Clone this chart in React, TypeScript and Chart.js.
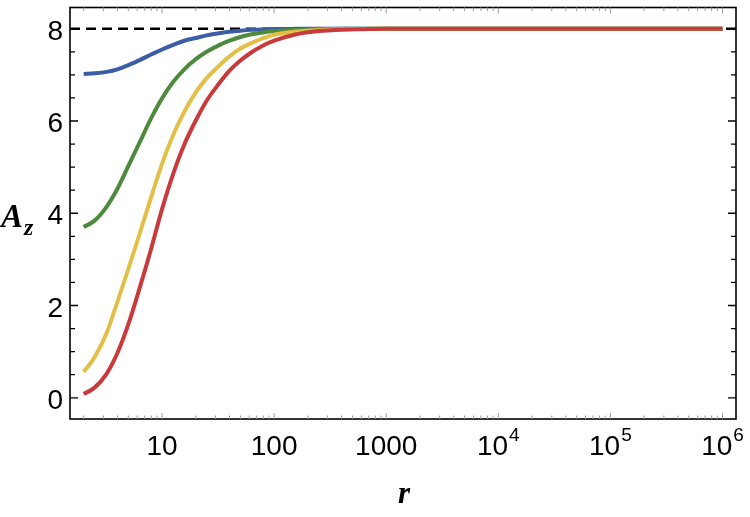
import React, { useEffect, useRef } from "react";
import { Chart, registerables } from "chart.js";

Chart.register(...registerables);

// ---- data ----
const rValues = [2, 2.5, 3.2, 4, 5, 6.3, 8, 10, 12.6, 15.8, 20, 25, 32, 40, 50, 63, 79, 100, 158, 251, 398, 631, 1000, 1e4, 1e5, 1e6];
const blueValues = [7.02, 7.035, 7.065, 7.12, 7.21, 7.32, 7.44, 7.55, 7.65, 7.74, 7.8, 7.855, 7.9, 7.935, 7.958, 7.975, 7.985, 7.992, 7.997, 8, 8, 8, 8, 8, 8, 8];
const greenValues = [3.7, 3.84, 4.14, 4.53, 5.02, 5.53, 6.06, 6.49, 6.85, 7.12, 7.34, 7.5, 7.64, 7.74, 7.82, 7.88, 7.92, 7.95, 7.98, 7.993, 8, 8, 8, 8, 8, 8];
const yellowValues = [0.56, 0.88, 1.4, 2.08, 2.79, 3.55, 4.35, 5.07, 5.7, 6.2, 6.62, 6.93, 7.19, 7.4, 7.57, 7.69, 7.79, 7.87, 7.94, 7.975, 7.99, 7.996, 8, 8, 8, 8];
const redValues = [0.08, 0.22, 0.52, 0.97, 1.59, 2.37, 3.23, 4.09, 4.86, 5.49, 6.01, 6.44, 6.8, 7.09, 7.31, 7.49, 7.63, 7.74, 7.88, 7.95, 7.98, 7.99, 7.997, 8, 8, 8];
const asymptote = 8;

const X_MIN = 1.51;
const X_MAX = 1.32e6;
const Y_MIN = -0.46;
const Y_MAX = 8.46;

const yTickLabels = [0, 2, 4, 6, 8];
const yMinorTicks = [0.5, 1, 1.5, 2.5, 3, 3.5, 4.5, 5, 5.5, 6.5, 7, 7.5];
const xDecades = [1, 2, 3, 4, 5, 6];
const xPlainLabels: Record<number, string> = { 1: "10", 2: "100", 3: "1000" };

const toPts = (ys: number[]) => rValues.map((r, i) => ({ x: r, y: ys[i] }));

const framePlugin = {
  id: "frame",
  afterDraw(chart: any) {
    const ctx = chart.ctx as CanvasRenderingContext2D;
    const { left, right, top, bottom } = chart.chartArea;
    const xs = chart.scales.x;
    const ys = chart.scales.y;
    ctx.save();
    // frame
    ctx.strokeStyle = "#000";
    ctx.lineWidth = 1.6;
    ctx.strokeRect(left, top, right - left, bottom - top);

    // y ticks
    ctx.lineWidth = 1.3;
    const drawY = (v: number, len: number) => {
      const y = ys.getPixelForValue(v);
      ctx.beginPath();
      ctx.moveTo(left, y);
      ctx.lineTo(left + len, y);
      ctx.moveTo(right, y);
      ctx.lineTo(right - len, y);
      ctx.stroke();
    };
    yTickLabels.forEach((v) => drawY(v, 8));
    yMinorTicks.forEach((v) => drawY(v, 5));

    // x ticks
    ctx.strokeStyle = "#9a9a9a";
    ctx.lineWidth = 1;
    const drawX = (v: number, len: number) => {
      if (v < X_MIN || v > X_MAX) return;
      const x = xs.getPixelForValue(v);
      ctx.beginPath();
      ctx.moveTo(x, bottom);
      ctx.lineTo(x, bottom - len);
      ctx.moveTo(x, top);
      ctx.lineTo(x, top + len);
      ctx.stroke();
    };
    for (let d = 0; d <= 6; d++) {
      drawX(Math.pow(10, d), 6);
      for (let m = 2; m <= 9; m++) drawX(m * Math.pow(10, d), 3.5);
    }

    // y labels
    ctx.fillStyle = "#000";
    ctx.font = '28px "Liberation Sans", Arial, sans-serif';
    ctx.textAlign = "right";
    ctx.textBaseline = "alphabetic";
    yTickLabels.forEach((v) => {
      const y = ys.getPixelForValue(v);
      ctx.fillText(String(v), left - 7, y + 11);
    });

    // x labels
    const base = bottom + 36;
    xDecades.forEach((d) => {
      const x = xs.getPixelForValue(Math.pow(10, d));
      if (xPlainLabels[d]) {
        ctx.textAlign = "center";
        ctx.font = '28px "Liberation Sans", Arial, sans-serif';
        ctx.fillText(xPlainLabels[d], x, base);
      } else {
        ctx.textAlign = "left";
        ctx.font = '28px "Liberation Sans", Arial, sans-serif';
        const w1 = ctx.measureText("10").width;
        ctx.font = '19px "Liberation Sans", Arial, sans-serif';
        const w2 = ctx.measureText(String(d)).width;
        const gap = 1;
        const x0 = x - (w1 + gap + w2) / 2;
        ctx.font = '28px "Liberation Sans", Arial, sans-serif';
        ctx.fillText("10", x0, base);
        ctx.font = '19px "Liberation Sans", Arial, sans-serif';
        ctx.fillText(String(d), x0 + w1 + gap, base - 14);
      }
    });

    // axis titles
    ctx.textAlign = "left";
    ctx.font = 'bold italic 33px "Liberation Serif", "Times New Roman", serif';
    ctx.fillText("A", 1, 227);
    const wA = ctx.measureText("A").width;
    ctx.font = 'bold italic 24px "Liberation Serif", "Times New Roman", serif';
    ctx.fillText("z", 1 + wA + 1, 235);

    ctx.textAlign = "center";
    ctx.font = 'bold italic 31px "Liberation Serif", "Times New Roman", serif';
    ctx.fillText("r", 404, 503);
    ctx.restore();
  },
};

export default function App() {
  const ref = useRef<HTMLCanvasElement | null>(null);
  useEffect(() => {
    if (!ref.current) return;
    const mk = (label: string, ys: number[], color: string, order: number) => ({
      label,
      data: toPts(ys),
      borderColor: color,
      borderWidth: 4,
      pointRadius: 0,
      fill: false,
      cubicInterpolationMode: "monotone" as const,
      order,
    });
    const chart = new Chart(ref.current, {
      type: "line",
      data: {
        datasets: [
          mk("red", redValues, "#c83a3b", 0),
          mk("yellow", yellowValues, "#e2c048", 1),
          mk("green", greenValues, "#4e8a3d", 2),
          mk("blue", blueValues, "#3c5ca6", 3),
          {
            label: "asymptote",
            data: [
              { x: X_MIN, y: asymptote },
              { x: X_MAX, y: asymptote },
            ],
            borderColor: "#000",
            borderWidth: 2.5,
            borderDash: [10, 6],
            pointRadius: 0,
            fill: false,
            order: 4,
          },
        ],
      },
      options: {
        responsive: false,
        animation: false,
        layout: { padding: { left: 70, right: 14, top: 7.5, bottom: 98 } },
        scales: {
          x: { type: "logarithmic", min: X_MIN, max: X_MAX, display: false },
          y: { type: "linear", min: Y_MIN, max: Y_MAX, display: false },
        },
        plugins: { legend: { display: false }, tooltip: { enabled: false } },
      },
      plugins: [framePlugin],
    });
    return () => chart.destroy();
  }, []);
  return (
    <div style={{ position: "absolute", left: 0, top: 0, width: 750, height: 517, background: "#fff" }}>
      <canvas ref={ref} width={750} height={517} style={{ display: "block" }} />
    </div>
  );
}
